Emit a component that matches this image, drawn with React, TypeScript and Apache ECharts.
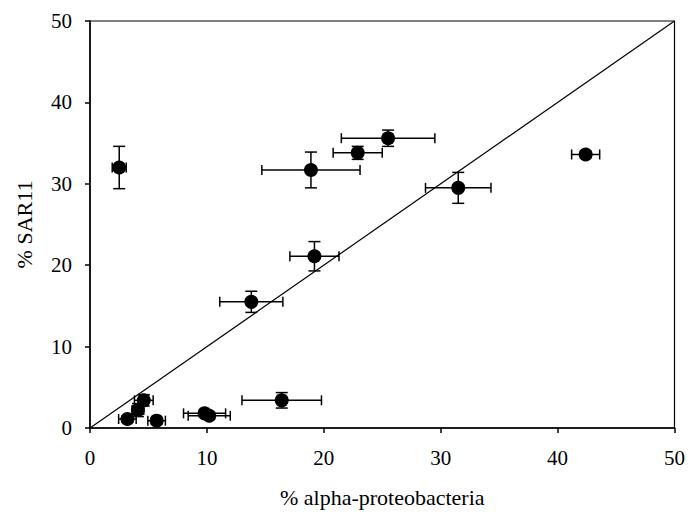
import React, { useEffect, useRef } from "react";
import * as echarts from "echarts";

const xValues = [2.5, 25.5, 22.9, 18.9, 31.5, 19.2, 13.8, 42.4, 4.6, 4.1, 3.2, 5.7, 9.8, 10.2, 16.4];
const yValues = [32.0, 35.6, 33.8, 31.7, 29.5, 21.1, 15.5, 33.6, 3.4, 2.2, 1.1, 0.9, 1.8, 1.5, 3.4];
const xErrors = [0.6, 4.0, 2.1, 4.2, 2.8, 2.1, 2.7, 1.2, 0.8, 0.5, 0.75, 0.75, 1.8, 1.8, 3.4];
const yErrors = [2.6, 1.0, 0.8, 2.2, 1.9, 1.8, 1.3, 0.4, 0.7, 0.8, 0.4, 0.4, 0.4, 0.4, 0.95];
const lineX = [0, 50];
const lineY = [0, 50];
const tickValues = [0, 10, 20, 30, 40, 50];

const FONT = "'Liberation Serif', 'DejaVu Serif', serif";

export default function App() {
  const ref = useRef<HTMLDivElement>(null);
  useEffect(() => {
    if (!ref.current) return;
    const chart = echarts.init(ref.current, null, { renderer: "svg" });
    const points = xValues.map((x, i) => [x, yValues[i]]);
    const errData = xValues.map((x, i) => [x, yValues[i], xErrors[i], yErrors[i]]);
    const lineStyle = { stroke: "#000", lineWidth: 1.5 };
    chart.setOption({
      animation: false,
      backgroundColor: "#fff",
      grid: { left: 90, right: 11, top: 21, bottom: 83, show: true, borderColor: "#000", borderWidth: 1.2 },
      xAxis: {
        type: "value",
        min: tickValues[0],
        max: tickValues[tickValues.length - 1],
        interval: 10,
        name: "% alpha-proteobacteria",
        nameLocation: "middle",
        nameGap: 58,
        nameTextStyle: { fontFamily: FONT, fontSize: 22, color: "#000" },
        axisLine: { lineStyle: { color: "#000", width: 1.5 } },
        axisTick: { show: true, length: 5, lineStyle: { color: "#000", width: 1.5 } },
        axisLabel: { fontFamily: FONT, fontSize: 21, color: "#000", margin: 19 },
        splitLine: { show: false },
      },
      yAxis: {
        type: "value",
        min: tickValues[0],
        max: tickValues[tickValues.length - 1],
        interval: 10,
        name: "% SAR11",
        nameLocation: "middle",
        nameGap: 55,
        nameRotate: 90,
        nameTextStyle: { fontFamily: FONT, fontSize: 22, color: "#000" },
        axisLine: { lineStyle: { color: "#000", width: 1.5 } },
        axisTick: { show: true, length: 5, lineStyle: { color: "#000", width: 1.5 } },
        axisLabel: { fontFamily: FONT, fontSize: 21, color: "#000", margin: 18 },
        splitLine: { show: false },
      },
      series: [
        {
          type: "line",
          data: lineX.map((x, i) => [x, lineY[i]]),
          symbol: "none",
          lineStyle: { color: "#000", width: 1.2 },
          z: 1,
        },
        {
          type: "custom",
          data: errData,
          z: 2,
          renderItem: (params: any, api: any) => {
            const x = api.value(0);
            const y = api.value(1);
            const xe = api.value(2);
            const ye = api.value(3);
            const l = api.coord([x - xe, y]);
            const r = api.coord([x + xe, y]);
            const t = api.coord([x, y + ye]);
            const b = api.coord([x, y - ye]);
            const capH = 5;
            const capW = 6;
            return {
              type: "group",
              children: [
                { type: "line", shape: { x1: l[0], y1: l[1], x2: r[0], y2: r[1] }, style: lineStyle },
                { type: "line", shape: { x1: l[0], y1: l[1] - capH, x2: l[0], y2: l[1] + capH }, style: lineStyle },
                { type: "line", shape: { x1: r[0], y1: r[1] - capH, x2: r[0], y2: r[1] + capH }, style: lineStyle },
                { type: "line", shape: { x1: t[0], y1: t[1], x2: b[0], y2: b[1] }, style: lineStyle },
                { type: "line", shape: { x1: t[0] - capW, y1: t[1], x2: t[0] + capW, y2: t[1] }, style: lineStyle },
                { type: "line", shape: { x1: b[0] - capW, y1: b[1], x2: b[0] + capW, y2: b[1] }, style: lineStyle },
              ],
            };
          },
        },
        {
          type: "scatter",
          data: points,
          symbol: "circle",
          symbolSize: 14,
          itemStyle: { color: "#000", opacity: 1 },
          z: 3,
        },
      ],
    });
    return () => chart.dispose();
  }, []);
  return <div ref={ref} style={{ position: "fixed", left: 0, top: 0, width: 688, height: 513 }} />;
}
